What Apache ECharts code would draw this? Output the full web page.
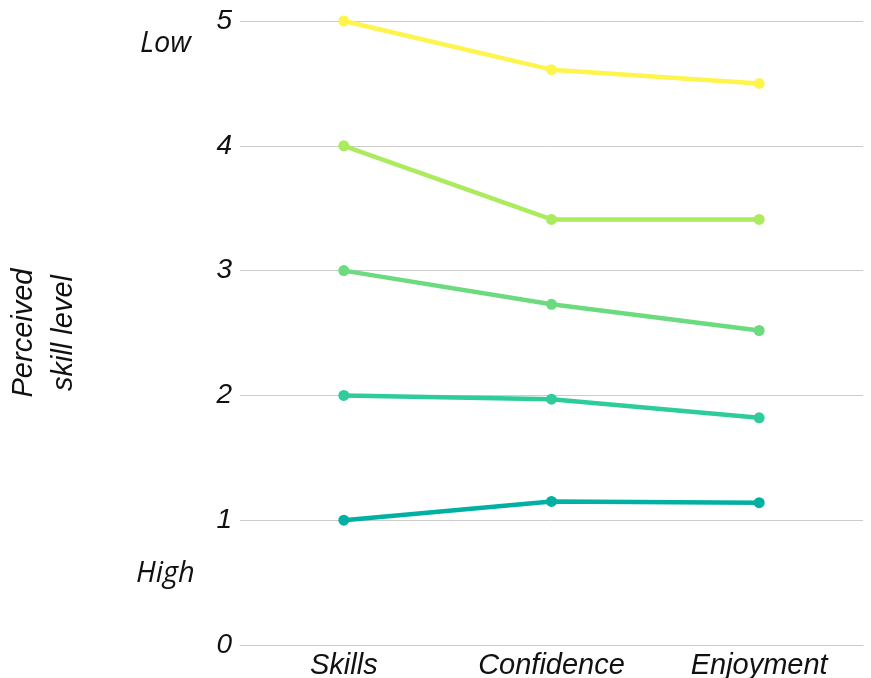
<!DOCTYPE html>
<html>
<head>
<meta charset="utf-8">
<script src="https://cdn.jsdelivr.net/npm/echarts@6/dist/echarts.min.js"></script>
<style>
  html, body { margin: 0; padding: 0; background: #fff; }
  #chart { width: 871px; height: 678px; }
</style>
</head>
<body>
<div id="chart"></div>
<script>
var categories = ['Skills', 'Confidence', 'Enjoyment'];
var level1 = [1, 1.15, 1.14];
var level2 = [2, 1.97, 1.82];
var level3 = [3, 2.73, 2.52];
var level4 = [4, 3.41, 3.41];
var level5 = [5, 4.61, 4.50];
var yTicks = [0, 1, 2, 3, 4, 5];

var colors = ['#00b0a3', '#2ecb9b', '#6cdb7f', '#abeb5d', '#fdf44c'];
var seriesData = [level1, level2, level3, level4, level5];

var chart = echarts.init(document.getElementById('chart'));

function mkSeries(data, i) {
    return {
        type: 'line',
        data: data,
        symbol: 'circle',
        symbolSize: 11,
        lineStyle: { width: 4.5, color: colors[i] },
        itemStyle: { color: colors[i] },
        z: 3
    };
}

var option = {
    animation: false,
    grid: { left: 240, right: 8, top: 21, bottom: 33, outerBoundsMode: 'none' },
    xAxis: {
        type: 'category',
        data: categories,
        axisLine: { show: true, lineStyle: { color: '#cccccc' } },
        axisTick: { show: false },
        axisLabel: {
            margin: 6,
            fontFamily: 'Liberation Sans',
            fontStyle: 'italic',
            fontSize: 29,
            color: '#111'
        }
    },
    yAxis: {
        type: 'value',
        min: yTicks[0],
        max: yTicks[yTicks.length - 1],
        interval: 1,
        name: 'Perceived\nskill level',
        nameLocation: 'middle',
        nameGap: 156,
        nameRotate: 90,
        nameTextStyle: {
            fontFamily: 'Liberation Sans',
            fontStyle: 'italic',
            fontSize: 29,
            lineHeight: 40,
            color: '#111'
        },
        axisLine: { show: false },
        axisTick: { show: false },
        splitLine: { lineStyle: { color: '#cccccc', width: 1 } },
        axisLabel: {
            margin: 8,
            fontFamily: 'Liberation Sans',
            fontStyle: 'italic',
            fontSize: 28,
            color: '#111'
        }
    },
    graphic: [
        {
            type: 'text', left: 140, top: 29,
            style: { text: 'Low', font: 'italic 500 29px "Open Sans"', fill: '#111' }
        },
        {
            type: 'text', left: 136, top: 559,
            style: { text: 'High', font: 'italic 500 29px "Open Sans"', fill: '#111' }
        }
    ],
    series: seriesData.map(mkSeries)
};

chart.setOption(option);
</script>
</body>
</html>
